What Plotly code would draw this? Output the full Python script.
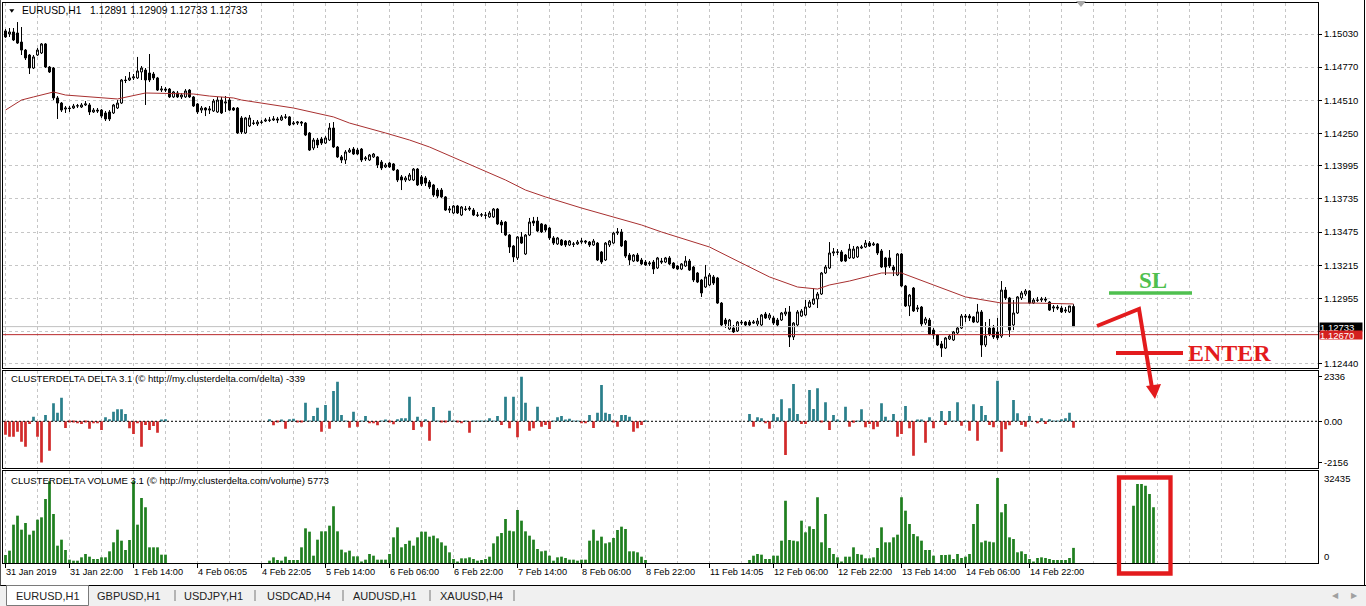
import plotly.graph_objects as go

W, H = 1366, 606

# ---- data -------------------------------------------------------------
x_labels = ["31 Jan 2019", "31 Jan 22:00", "1 Feb 14:00", "4 Feb 06:05", "4 Feb 22:05",
            "5 Feb 14:00", "6 Feb 06:00", "6 Feb 22:00", "7 Feb 14:00", "8 Feb 06:00",
            "8 Feb 22:00", "11 Feb 14:05", "12 Feb 06:00", "12 Feb 22:00", "13 Feb 14:00",
            "14 Feb 06:00", "14 Feb 22:00"]
bars_per_label = 16

price_ticks = [1.15030, 1.14770, 1.14510, 1.14250, 1.13995, 1.13735, 1.13475,
               1.13215, 1.12955, 1.12695, 1.12440]
price_tick_text = ["1.15030", "1.14770", "1.14510", "1.14250", "1.13995", "1.13735",
                   "1.13475", "1.13215", "1.12955", "", "1.12440"]

# EURUSD H1 prices in points (1e-5)
opens_pts = [
    115054, 115030, 115046, 115038, 114967, 114904, 114865, 114763, 114865, 114881,
    114952, 114771, 114763, 114528, 114488, 114441, 114449, 114449, 114465, 114457,
    114473, 114473, 114418, 114433, 114433, 114410, 114418, 114410, 114449, 114488,
    114669, 114669, 114685, 114685, 114732, 114747, 114724, 114716, 114685, 114590,
    114598, 114598, 114536, 114567, 114536, 114536, 114590, 114536, 114481, 114433,
    114449, 114433, 114426, 114418, 114512, 114488, 114512, 114449, 114449, 114371,
    114253, 114308, 114331, 114324, 114339, 114347, 114355, 114355, 114363, 114355,
    114379, 114379, 114324, 114331, 114339, 114331, 114253, 114135, 114198, 114206,
    114174, 114198, 114292, 114143, 114065, 114041, 114104, 114127, 114119, 114127,
    114049, 114041, 114065, 114065, 114025, 113986, 114017, 114010, 113962, 113908,
    113884, 113884, 113884, 113970, 113908, 113900, 113868, 113845, 113805, 113805,
    113751, 113648, 113625, 113680, 113609, 113656, 113664, 113648, 113609, 113609,
    113609, 113594, 113594, 113656, 113554, 113554, 113452, 113366, 113272, 113437,
    113303, 113452, 113562, 113562, 113539, 113531, 113507, 113429, 113382, 113413,
    113405, 113374, 113382, 113382, 113397, 113405, 113397, 113374, 113389, 113319,
    113256, 113374, 113389, 113468, 113476, 113405, 113295, 113248, 113295, 113256,
    113240, 113225, 113240, 113193, 113248, 113240, 113272, 113232, 113209, 113185,
    113209, 113248, 113201, 113154, 113099, 113044, 113060, 113123, 113115, 112918,
    112785, 112714, 112722, 112699, 112761, 112769, 112769, 112761, 112754, 112746,
    112832, 112801, 112801, 112785, 112785, 112832, 112848, 112652, 112746, 112816,
    112824, 112887, 112911, 112950, 112989, 113154, 113193, 113311, 113319, 113319,
    113295, 113272, 113272, 113280, 113350, 113358, 113389, 113374, 113382, 113327,
    113272, 113272, 113201, 113138, 113303, 113052, 112895, 113036, 112871, 112887,
    112761, 112785, 112706, 112667, 112597, 112565, 112636, 112628, 112683, 112722,
    112816, 112816, 112809, 112769, 112848, 112589, 112722, 112722, 112691, 112659,
    113020, 112958, 112746, 112840, 112958, 112989, 113013, 112918, 112942, 112942,
    112950, 112926, 112879, 112887, 112879, 112856, 112848, 112891]
highs_pts = [
    115069, 115077, 115077, 115124, 115085, 114912, 114873, 114865, 114920, 114959,
    114959, 114779, 114771, 114543, 114496, 114465, 114465, 114481, 114481, 114488,
    114504, 114488, 114449, 114449, 114441, 114426, 114433, 114481, 114512, 114677,
    114700, 114732, 114716, 114850, 114779, 114763, 114873, 114732, 114693, 114622,
    114614, 114606, 114583, 114583, 114567, 114598, 114598, 114543, 114488, 114465,
    114457, 114465, 114520, 114536, 114536, 114543, 114528, 114457, 114457, 114386,
    114379, 114394, 114355, 114355, 114355, 114371, 114379, 114386, 114379, 114394,
    114402, 114386, 114347, 114347, 114347, 114339, 114261, 114214, 114214, 114222,
    114229, 114331, 114339, 114151, 114080, 114119, 114135, 114143, 114135, 114135,
    114072, 114088, 114096, 114072, 114041, 114017, 114025, 114017, 113970, 113923,
    113915, 113939, 113978, 113978, 113923, 113915, 113884, 113853, 113821, 113821,
    113758, 113680, 113688, 113688, 113680, 113680, 113680, 113664, 113633, 113625,
    113633, 113641, 113664, 113664, 113570, 113562, 113460, 113374, 113444, 113476,
    113460, 113586, 113594, 113594, 113546, 113539, 113515, 113444, 113437, 113421,
    113413, 113413, 113397, 113413, 113429, 113413, 113405, 113421, 113397, 113327,
    113397, 113413, 113476, 113507, 113499, 113413, 113311, 113303, 113311, 113272,
    113256, 113248, 113256, 113280, 113272, 113280, 113287, 113240, 113217, 113232,
    113287, 113264, 113209, 113162, 113107, 113217, 113154, 113138, 113123, 112926,
    112801, 112793, 112746, 112777, 112785, 112777, 112785, 112785, 112801, 112832,
    112848, 112840, 112816, 112801, 112848, 112879, 112895, 112769, 112863, 112871,
    112942, 112942, 113036, 113005, 113162, 113217, 113397, 113350, 113342, 113334,
    113303, 113382, 113366, 113366, 113374, 113413, 113405, 113397, 113389, 113342,
    113280, 113334, 113217, 113311, 113311, 113060, 112989, 113044, 112903, 112895,
    112809, 112801, 112722, 112675, 112620, 112652, 112675, 112699, 112730, 112832,
    112832, 112832, 112816, 112911, 112863, 112769, 112793, 112746, 112801, 113091,
    113044, 112966, 112942, 112973, 113013, 113028, 113020, 112958, 112966, 112966,
    112966, 112934, 112903, 112903, 112895, 112887, 112895, 112909]
lows_pts = [
    114999, 115007, 114975, 114952, 114865, 114826, 114716, 114755, 114857, 114873,
    114763, 114724, 114512, 114363, 114418, 114410, 114418, 114441, 114449, 114449,
    114465, 114394, 114410, 114410, 114371, 114347, 114347, 114402, 114441, 114481,
    114645, 114661, 114669, 114677, 114669, 114473, 114653, 114669, 114583, 114575,
    114575, 114528, 114528, 114528, 114520, 114528, 114528, 114457, 114402, 114410,
    114386, 114402, 114418, 114410, 114402, 114418, 114426, 114426, 114245, 114245,
    114245, 114300, 114316, 114308, 114324, 114339, 114339, 114347, 114331, 114347,
    114363, 114308, 114316, 114316, 114308, 114229, 114112, 114119, 114135, 114159,
    114167, 114190, 114135, 114057, 114017, 114010, 114096, 114080, 114080, 114025,
    114033, 114033, 114057, 113978, 113962, 113978, 113978, 113955, 113868, 113805,
    113868, 113876, 113876, 113837, 113837, 113837, 113813, 113751, 113743, 113743,
    113641, 113625, 113617, 113617, 113601, 113641, 113641, 113601, 113594, 113594,
    113578, 113586, 113586, 113531, 113468, 113444, 113311, 113240, 113256, 113382,
    113295, 113444, 113523, 113476, 113468, 113476, 113413, 113374, 113374, 113366,
    113358, 113366, 113358, 113374, 113382, 113382, 113358, 113366, 113248, 113225,
    113248, 113358, 113382, 113452, 113358, 113272, 113217, 113240, 113240, 113217,
    113209, 113209, 113146, 113185, 113225, 113232, 113217, 113185, 113177, 113177,
    113201, 113170, 113083, 113075, 112966, 113036, 113052, 113060, 112911, 112738,
    112722, 112706, 112683, 112691, 112746, 112738, 112738, 112754, 112738, 112738,
    112793, 112785, 112746, 112730, 112777, 112816, 112573, 112628, 112730, 112809,
    112816, 112879, 112903, 112879, 112981, 113146, 113185, 113287, 113295, 113240,
    113240, 113264, 113264, 113272, 113342, 113350, 113358, 113366, 113295, 113193,
    113138, 113193, 113130, 113130, 113044, 112887, 112816, 112848, 112848, 112730,
    112746, 112667, 112636, 112581, 112495, 112557, 112628, 112620, 112675, 112714,
    112769, 112777, 112761, 112761, 112495, 112573, 112659, 112636, 112628, 112644,
    112942, 112652, 112706, 112832, 112942, 112973, 112911, 112911, 112926, 112926,
    112926, 112856, 112848, 112863, 112840, 112840, 112840, 112733]
closes_pts = [
    115007, 115046, 114983, 114959, 114904, 114842, 114763, 114850, 114904, 114952,
    114771, 114732, 114528, 114488, 114433, 114449, 114445, 114465, 114467, 114473,
    114481, 114418, 114433, 114426, 114386, 114363, 114363, 114473, 114488, 114669,
    114665, 114685, 114693, 114740, 114763, 114669, 114669, 114685, 114590, 114598,
    114590, 114536, 114575, 114536, 114551, 114583, 114536, 114465, 114418, 114449,
    114433, 114441, 114504, 114512, 114410, 114496, 114433, 114433, 114253, 114261,
    114371, 114371, 114329, 114339, 114337, 114355, 114353, 114363, 114355, 114379,
    114377, 114316, 114331, 114339, 114331, 114237, 114119, 114198, 114159, 114174,
    114214, 114292, 114143, 114065, 114041, 114104, 114119, 114088, 114088, 114041,
    114057, 114080, 114088, 114002, 113978, 114002, 113986, 113962, 113884, 113884,
    113900, 113923, 113970, 113845, 113853, 113860, 113829, 113766, 113758, 113751,
    113648, 113656, 113680, 113625, 113672, 113654, 113656, 113609, 113607, 113611,
    113607, 113625, 113656, 113539, 113531, 113452, 113358, 113280, 113437, 113389,
    113452, 113554, 113546, 113484, 113476, 113491, 113429, 113389, 113429, 113374,
    113374, 113405, 113380, 113397, 113405, 113397, 113374, 113405, 113256, 113240,
    113389, 113405, 113468, 113476, 113366, 113287, 113256, 113295, 113248, 113225,
    113217, 113232, 113185, 113272, 113240, 113272, 113225, 113193, 113185, 113225,
    113248, 113177, 113099, 113083, 112997, 113123, 113138, 113075, 112918, 112746,
    112754, 112785, 112691, 112769, 112767, 112746, 112746, 112769, 112777, 112824,
    112801, 112824, 112761, 112746, 112840, 112848, 112652, 112761, 112848, 112856,
    112887, 112926, 112950, 112989, 113154, 113201, 113311, 113319, 113317, 113248,
    113248, 113342, 113342, 113358, 113358, 113389, 113366, 113382, 113311, 113201,
    113201, 113209, 113177, 113303, 113052, 112895, 112981, 112856, 112879, 112754,
    112793, 112675, 112667, 112589, 112565, 112644, 112659, 112691, 112722, 112816,
    112809, 112801, 112769, 112848, 112589, 112659, 112675, 112652, 112644, 113020,
    112958, 112706, 112840, 112966, 112997, 113013, 112918, 112942, 112940, 112950,
    112942, 112863, 112887, 112879, 112848, 112863, 112895, 112733]

# moving average, read at selected bars
ma_bars = [0, 4, 7, 12, 15, 28, 35, 47, 51, 57, 59, 70, 72, 82, 86, 95, 101, 106, 114,
           125, 130, 135, 144, 152, 159, 164, 176, 184, 191, 198, 203, 206, 211, 219,
           224, 232, 240, 249, 257, 267]
ma_pts = [114433, 114512, 114536, 114575, 114551, 114520, 114567, 114559, 114543, 114528,
          114512, 114457, 114449, 114379, 114331, 114253, 114198, 114143, 114033, 113884,
          113805, 113751, 113664, 113594, 113531, 113476, 113358, 113232, 113123, 113044,
          113028, 113060, 113091, 113154, 113154, 113060, 112966, 112918, 112918, 112911]

level_price = 1.12670

# ClusterDelta DELTA
delta = [
    -700, -804, -804, -542, -1066, -1328, -140, 245, -804, -2156,
    332, -1537, 943, 454, 1240, -349, -35, -35, -105, -140,
    -35, -384, -105, -105, -454, 210, 105, 507, 629, 629,
    384, -367, -664, -105, -1328, -192, -454, -245, -594, 70,
    105, 0, 0, 0, 0, 0, 0, 0, 0, 0,
    0, 0, 0, 0, 0, 0, 0, 0, 0, 0,
    0, 0, 0, 0, 0, 0, 105, -210, -35, 70,
    -384, 105, 140, -52, -17, 978, 35, 280, 716, -542,
    856, -384, 1590, 2079, 332, 35, -332, 507, -280, 35,
    280, -105, -105, -210, 17, 70, -17, -157, 105, 157,
    157, 1293, -454, 245, -280, 105, -1013, 751, 35, -52,
    -35, 559, 35, -35, -105, 35, -594, 17, 35, 17,
    35, 157, 17, 280, -192, 1293, -367, 1293, -839, 2336,
    978, -489, -367, 769, -280, -192, -402, 17, 210, 280,
    70, 140, 35, 17, -105, -105, 332, -349, 454, 1904,
    454, 384, -17, -280, 332, 332, 245, -542, -367, -192,
    35, 0, 0, 0, 0, 0, 0, 0, 0, 0,
    0, 0, 0, 0, 0, 0, 0, 0, 0, 0,
    0, 0, 0, 0, 0, 0, 384, -280, 210, 157,
    -105, -384, 384, 210, 1153, -1764, 681, 1957, 384, -140,
    -140, 1642, 646, 1730, -35, 996, -454, 332, 70, 0,
    769, -280, -70, 17, 629, -314, -140, -419, -280, 943,
    245, 35, 384, -804, -664, 804, -367, -1799, 70, 70,
    -1118, 210, -367, 0, 542, -192, 542, 35, 996, -227,
    35, -489, 891, -1013, 804, 332, -192, -314, 2131, -1590,
    -419, -210, 1118, 419, -192, -280, 280, 0, -105, 157,
    -140, 105, 35, 17, 105, 157, 454, -339]
delta_ticks = [2336, 0, -2156]
delta_tick_text = ["2336", "0.00", "-2156"]

# ClusterDelta VOLUME
volume = [
    3053, 4706, 14628, 18062, 12720, 15264, 10812, 12338, 16536, 17426,
    24422, 31164, 18698, 6614, 8904, 4961, 1272, 890, 890, 2162,
    3434, 2417, 1526, 1526, 2162, 2162, 4452, 7886, 12720, 8522,
    4961, 8777, 31164, 14628, 24804, 21242, 5978, 5978, 5978, 3180,
    3180, 0, 0, 0, 0, 0, 0, 0, 0, 0,
    0, 0, 0, 0, 0, 0, 0, 0, 0, 0,
    0, 0, 0, 0, 0, 0, 890, 2162, 1145, 890,
    2417, 1145, 1145, 1145, 5978, 13229, 11957, 2798, 8904, 12084,
    12084, 14246, 21624, 12084, 5088, 4070, 4706, 2544, 2544, 380,
    1272, 3434, 2798, 1272, 1272, 1272, 3434, 9794, 13610, 5978,
    7250, 8522, 6614, 9794, 11957, 11957, 10049, 10430, 9413, 7886,
    6614, 4070, 1526, 509, 1781, 1781, 2162, 1526, 890, 1145,
    1526, 2417, 7505, 10176, 11448, 16790, 12338, 12084, 20225, 16154,
    12084, 10430, 8904, 5342, 4452, 4706, 2798, 890, 2162, 2417,
    1908, 1272, 1272, 890, 1272, 1272, 8522, 12720, 8522, 10049,
    7505, 7886, 9540, 12593, 13865, 12974, 4452, 4452, 4070, 2417,
    1145, 0, 0, 0, 0, 0, 0, 0, 0, 0,
    0, 0, 0, 0, 0, 0, 0, 0, 0, 0,
    0, 0, 0, 0, 0, 0, 1145, 2798, 3434, 3180,
    1526, 1526, 2798, 2798, 8522, 23786, 8777, 8522, 8268, 16154,
    11702, 13992, 12974, 25058, 7886, 18698, 5724, 3434, 2162, 254,
    2417, 2417, 5978, 3434, 3180, 1781, 1781, 2162, 5724, 13610,
    7886, 7886, 9794, 10812, 25058, 19970, 14882, 11066, 10176, 8522,
    4961, 4961, 2798, 0, 3053, 3053, 3180, 1526, 3434, 1908,
    2417, 3434, 14882, 22514, 7886, 8522, 8141, 7886, 32435, 19334,
    22514, 9794, 9158, 4070, 4452, 3434, 1526, 254, 1908, 2162,
    1908, 1526, 1145, 1145, 1145, 1145, 1908, 5773]
volume_labels = ["32435", "0"]

# volume bars pasted inside the red box (future area)
pasted_bars = [282, 283, 284, 285, 286, 287]
pasted_volume = [21878, 30146, 30146, 29510, 26330, 21242]

tabs = ["EURUSD,H1", "GBPUSD,H1", "USDJPY,H1", "USDCAD,H4", "AUDUSD,H1", "XAUUSD,H4"]

# ---- helpers ----------------------------------------------------------
def fx(p):
    return p / W


def fy(p):
    return 1 - p / H


idx = list(range(len(closes_pts)))
opens = [v / 1e5 for v in opens_pts]
highs = [v / 1e5 for v in highs_pts]
lows = [v / 1e5 for v in lows_pts]
closes = [v / 1e5 for v in closes_pts]
ma = [v / 1e5 for v in ma_pts]

x_range = [(3 - 5.5) / 4, (1318 - 5.5) / 4]
label_pos = [k * bars_per_label - 0.125 for k in range(len(x_labels))]
grid_pos = [k * bars_per_label / 2 - 0.125 for k in range(42)]

FONT = "Liberation Sans, Arial, sans-serif"
GRID = "#c6c6c6"
TEAL = "#2a7f8b"
RED = "#d12a2a"
GREEN = "#1f7f1f"
MARK = "#e31b1d"

fig = go.Figure()

fig.add_trace(go.Candlestick(
    x=idx, open=opens, high=highs, low=lows, close=closes,
    increasing=dict(line=dict(color="black", width=1), fillcolor="white"),
    decreasing=dict(line=dict(color="black", width=1), fillcolor="black"),
    whiskerwidth=0, hoverinfo="skip", xaxis="x", yaxis="y"))

fig.add_trace(go.Scatter(x=ma_bars, y=ma, mode="lines",
                         line=dict(color="#a83030", width=1),
                         hoverinfo="skip", xaxis="x", yaxis="y"))

fig.add_trace(go.Bar(x=idx, y=delta, width=0.68,
                     marker=dict(color=[TEAL if d >= 0 else RED for d in delta], line_width=0),
                     hoverinfo="skip", xaxis="x2", yaxis="y2"))

fig.add_trace(go.Bar(x=idx, y=volume, width=0.68,
                     marker=dict(color=GREEN, line_width=0),
                     hoverinfo="skip", xaxis="x3", yaxis="y3"))
fig.add_trace(go.Bar(x=pasted_bars, y=pasted_volume, width=0.68,
                     marker=dict(color=GREEN, line_width=0),
                     hoverinfo="skip", xaxis="x3", yaxis="y3", cliponaxis=False))

xdom = [fx(3), fx(1318)]


def x_axis(anchor, bottom):
    ax = dict(domain=xdom, range=x_range, anchor=anchor, showline=True, mirror=True,
              linecolor="black", linewidth=1, zeroline=False, fixedrange=True,
              showticklabels=False, tickmode="array", showgrid=True,
              gridcolor=GRID, griddash="3px,3px", gridwidth=1,
              minor=dict(tickmode="array", tickvals=grid_pos, showgrid=True,
                         gridcolor=GRID, griddash="3px,3px", gridwidth=1, ticks=""))
    if bottom:
        ax.update(tickvals=label_pos, ticks="outside", ticklen=4, tickcolor="black")
    else:
        ax.update(tickvals=label_pos, ticks="")
    return ax


yfont = dict(family=FONT, size=9.5, color="black")

fig.update_layout(
    width=W, height=H, margin=dict(l=0, r=0, t=0, b=0),
    paper_bgcolor="white", plot_bgcolor="white", showlegend=False,
    barmode="overlay", hovermode=False,
    font=dict(family=FONT, size=9.5, color="black"),
    xaxis=dict(x_axis("y", False), rangeslider=dict(visible=False)),
    xaxis2=x_axis("y2", False),
    xaxis3=x_axis("y3", True),
    yaxis=dict(domain=[fy(368), fy(3)], range=[1.15297 - 0.0000785 * 368, 1.15297 - 0.0000785 * 3],
               anchor="x", side="right", tickmode="array", tickvals=price_ticks,
               ticktext=price_tick_text, ticks="outside", ticklen=3, tickcolor="black",
               tickfont=yfont, showgrid=True, gridcolor=GRID, griddash="3px,3px",
               zeroline=False, showline=True, mirror=True, linecolor="black", fixedrange=True),
    yaxis2=dict(domain=[fy(468), fy(370.5)], range=[-2447, 2662], anchor="x2", side="right",
                tickmode="array", tickvals=delta_ticks, ticktext=delta_tick_text,
                ticks="outside", ticklen=3, tickcolor="black", tickfont=yfont,
                showgrid=False, zeroline=False, showline=True, mirror=True,
                linecolor="black", fixedrange=True),
    yaxis3=dict(domain=[fy(563), fy(470.5)], range=[0, 35298], anchor="x3", side="right",
                showticklabels=False, ticks="", showgrid=False, zeroline=False,
                showline=True, mirror=True, linecolor="black", fixedrange=True),
)

shapes = []
# bid and level lines
shapes.append(dict(type="line", xref="x domain", yref="y", x0=0, x1=1,
                   y0=closes[-1], y1=closes[-1], line=dict(color="#c0c0c0", width=1)))
shapes.append(dict(type="line", xref="x domain", yref="y", x0=0, x1=1,
                   y0=level_price, y1=level_price, line=dict(color="#b8282a", width=1)))
# delta zero level
shapes.append(dict(type="line", xref="x2 domain", yref="y2", x0=0, x1=1, y0=0, y1=0,
                   line=dict(color="black", width=1, dash="2px,2px")))

# small markers at the top
shapes.append(dict(type="path", xref="paper", yref="paper", fillcolor="black", line_width=0,
                   path=f"M {fx(9.3)},{fy(9.3)} L {fx(14.3)},{fy(9.3)} L {fx(11.8)},{fy(12.8)} Z"))
shapes.append(dict(type="path", xref="paper", yref="paper", fillcolor="#a8a8a8", line_width=0,
                   path=f"M {fx(1076)},{fy(1)} L {fx(1086)},{fy(1)} L {fx(1081)},{fy(7)} Z"))

# hand-drawn trade marks
shapes.append(dict(type="line", xref="paper", yref="paper", x0=fx(1109), x1=fx(1192),
                   y0=fy(293), y1=fy(293), line=dict(color="#4fc04f", width=3.5)))
shapes.append(dict(type="path", xref="paper", yref="paper", line=dict(color=MARK, width=4),
                   path=f"M {fx(1097)},{fy(326)} L {fx(1139)},{fy(309)} L {fx(1152)},{fy(388)}"))
shapes.append(dict(type="path", xref="paper", yref="paper", fillcolor=MARK, line_width=0,
                   path=f"M {fx(1146)},{fy(386)} L {fx(1161)},{fy(384)} L {fx(1155)},{fy(399)} Z"))
shapes.append(dict(type="line", xref="paper", yref="paper", x0=fx(1116), x1=fx(1183),
                   y0=fy(353), y1=fy(353), line=dict(color=MARK, width=4)))
shapes.append(dict(type="rect", xref="paper", yref="paper", x0=fx(1119), x1=fx(1170.5),
                   y0=fy(573.5), y1=fy(477.5), line=dict(color=MARK, width=4.3)))

# tab bar and window frame
shapes.append(dict(type="rect", xref="paper", yref="paper", x0=0, x1=1, y0=0, y1=fy(586),
                   fillcolor="#f0f0f0", line_width=0, layer="below"))
shapes.append(dict(type="line", xref="paper", yref="paper", x0=0, x1=1,
                   y0=fy(585.5), y1=fy(585.5), line=dict(color="black", width=1)))
shapes.append(dict(type="rect", xref="paper", yref="paper", x0=fx(6.5), x1=fx(88.5),
                   y0=fy(605.5), y1=fy(585.5), fillcolor="white",
                   line=dict(color="#7a7a7a", width=1)))
shapes.append(dict(type="line", xref="paper", yref="paper", x0=fx(1364.5), x1=fx(1364.5),
                   y0=fy(585.5), y1=1, line=dict(color="black", width=1)))
shapes.append(dict(type="line", xref="paper", yref="paper", x0=fx(0.5), x1=fx(0.5),
                   y0=fy(585.5), y1=1, line=dict(color="#555555", width=1)))
for sx in [175, 255, 343, 430, 514]:
    shapes.append(dict(type="line", xref="paper", yref="paper", x0=fx(sx), x1=fx(sx),
                       y0=fy(601), y1=fy(590), line=dict(color="#777777", width=1)))

fig.update_layout(shapes=shapes)

ann = []
ann.append(dict(xref="paper", yref="paper", x=fx(20), y=fy(10.3), xanchor="left",
                yanchor="middle", showarrow=False,
                text="EURUSD,H1\u00a0\u00a0 1.12891 1.12909 1.12733 1.12733",
                font=dict(family=FONT, size=10.3, color="black")))
ann.append(dict(xref="paper", yref="paper", x=fx(9), y=fy(378.8), xanchor="left",
                yanchor="middle", showarrow=False,
                text="CLUSTERDELTA DELTA 3.1 (\u00a9 http://my.clusterdelta.com/delta) -339",
                font=dict(family=FONT, size=9.6, color="black")))
ann.append(dict(xref="paper", yref="paper", x=fx(9), y=fy(480.8), xanchor="left",
                yanchor="middle", showarrow=False,
                text="CLUSTERDELTA VOLUME 3.1 (\u00a9 http://my.clusterdelta.com/volume) 5773",
                font=dict(family=FONT, size=9.6, color="black")))

for pos, lab in zip(label_pos, x_labels):
    ann.append(dict(xref="x3", yref="paper", x=pos, y=fy(572), xanchor="left",
                    yanchor="middle", showarrow=False, xshift=-1, text=lab,
                    font=dict(family=FONT, size=9.2, color="black")))

for lab, yy in zip(volume_labels, [478.3, 556.3]):
    ann.append(dict(xref="paper", yref="paper", x=fx(1322), y=fy(yy), xanchor="left",
                    yanchor="middle", showarrow=False, text=lab,
                    font=dict(family=FONT, size=9.5, color="black")))

# current price boxes
for txt, yy, bg in [(f"{closes[-1]:.5f}", 327, "black"), (f"{level_price:.5f}", 335, "#d42020")]:
    ann.append(dict(xref="paper", yref="paper", x=fx(1319), y=fy(yy), xanchor="left",
                    yanchor="middle", showarrow=False, text=txt, bgcolor=bg,
                    width=42, height=8, borderpad=0, align="left",
                    font=dict(family=FONT, size=9.5, color="white")))

ann.append(dict(xref="paper", yref="paper", x=fx(1152.5), y=fy(280.5), xanchor="center",
                yanchor="middle", showarrow=False, text="<b>SL</b>",
                font=dict(family="Liberation Serif, Times New Roman, serif", size=23,
                          color="#4fc04f")))
ann.append(dict(xref="paper", yref="paper", x=fx(1186), y=fy(353), xanchor="left",
                yanchor="middle", showarrow=False, text="<b>ENTER</b>",
                font=dict(family="Liberation Serif, Times New Roman, serif", size=24,
                          color=MARK)))

tab_x = [47.5, 128.5, 213.5, 298.5, 385, 471.5]
for t, tx in zip(tabs, tab_x):
    ann.append(dict(xref="paper", yref="paper", x=fx(tx), y=fy(596), xanchor="center",
                    yanchor="middle", showarrow=False, text=t,
                    font=dict(family=FONT, size=11, color="#222222")))
for t, tx in [("\u25c0", 1335), ("\u25b6", 1354)]:
    ann.append(dict(xref="paper", yref="paper", x=fx(tx), y=fy(595), xanchor="center",
                    yanchor="middle", showarrow=False, text=t,
                    font=dict(family=FONT, size=8, color="#a0a0a0")))

fig.update_layout(annotations=ann)

# the page body has a default margin; remove it so the figure fills the window
fig.write_html("out.html", config={"displayModeBar": False},
               post_script="document.body.style.margin='0';document.body.style.overflow='hidden';")
